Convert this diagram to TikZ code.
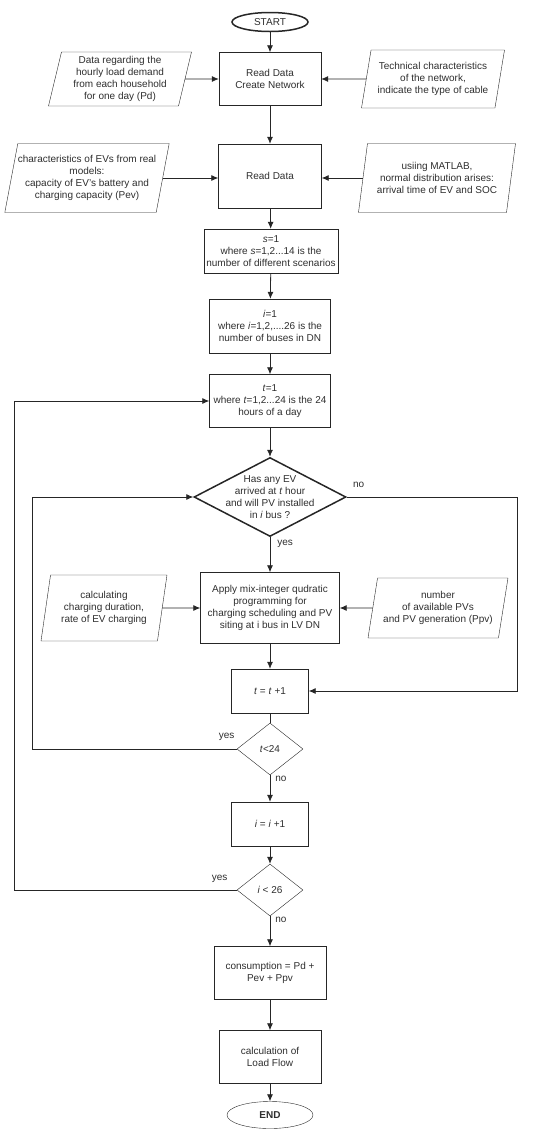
\documentclass[tikz,border=0pt]{standalone}
\usepackage{fontspec}
\setmainfont{Liberation Sans}
\usepackage{xcolor}
\usepackage{tikz}
\usetikzlibrary{arrows.meta, positioning, shapes.geometric}
\definecolor{inkgray}{HTML}{2E2E2E}
\definecolor{linegray}{HTML}{262626}
\tikzset{
  block/.style={draw=linegray, align=center, inner sep=1pt, text=inkgray},
  data/.style={trapezium, trapezium left angle=74, trapezium right angle=106, trapezium stretches body, draw=linegray, align=center, inner sep=0pt, text=inkgray},
  decision/.style={diamond, draw=linegray, align=center, inner sep=0pt, text=inkgray},
  terminal/.style={ellipse, draw=linegray, inner sep=0pt, text=inkgray},
  arrow/.style={-{Latex[length=7pt, width=6pt]}, linegray, line width=0.8pt},
  link/.style={linegray, line width=0.8pt},
  note/.style={text=inkgray, inner sep=2pt},
  every node/.style={font=\fontsize{10}{12}\selectfont}
}

\begin{document}
\begin{tikzpicture}[x=1pt,y=-1pt]
    \useasboundingbox (0,0) rectangle (550,1136);
    \node[terminal, line width=1.5pt, minimum width=76pt, minimum height=19pt] (start) at (270,22) {START};
    \node[block, minimum width=102pt, minimum height=53pt] (read1) at (270,79) {Read Data\\Create Network};
    \node[data, minimum width=143pt, minimum height=54pt] (load) at (120,79) {Data regarding the\\hourly load demand\\from each household\\for one day (Pd)};
    \node[data, minimum width=143pt, minimum height=58pt] (cable) at (433,79) {Technical characteristics\\of the network,\\indicate the type of cable};
    \node[block, minimum width=103pt, minimum height=64pt] (read2) at (270,176) {Read Data};
    \node[data, minimum width=162pt, minimum height=69pt] (evs) at (87,178) {characteristics of EVs from real\\models:\\capacity of EV's battery and\\charging capacity (Pev)};
    \node[data, minimum width=157pt, minimum height=69pt] (matlab) at (437,178) {usiing MATLAB,\\normal distribution arises:\\arrival time of EV and SOC};
    \node[block, minimum width=134pt, minimum height=44pt] (scen) at (271,251) {\textit{s}=1\\where \textit{s}=1,2...14 is the\\number of different scenarios};
    \node[block, minimum width=121pt, minimum height=54pt] (bus) at (270,326) {\textit{i}=1\\where \textit{i}=1,2,....26 is the\\number of buses in DN};
    \node[block, minimum width=121pt, minimum height=53pt] (hour) at (270,401) {\textit{t}=1\\where \textit{t}=1,2...24 is the 24\\hours of a day};
    \node[decision, line width=1.5pt, minimum width=152pt, minimum height=79pt,
      label={[text=inkgray, align=center]center:{Has any EV\\arrived at \textit{t} hour\\and will PV installed\\in \textit{i} bus ?}}] (arrive) at (270,497) {};
    \node[block, minimum width=139pt, minimum height=71pt] (milp) at (270,608) {Apply mix-integer qudratic\\programming for\\charging scheduling and PV\\siting at i bus in LV DN};
    \node[data, minimum width=126pt, minimum height=66pt] (charge) at (104,608) {calculating\\charging duration,\\rate of EV charging};
    \node[data, minimum width=140pt, minimum height=60pt] (pvgen) at (438,608) {number\\of available PVs\\and PV generation (Ppv)};
    \node[block, minimum width=77pt, minimum height=44pt] (tnext) at (270,691) {\textit{t} = \textit{t} +1};
    \node[decision, minimum width=66pt, minimum height=52pt] (tcheck) at (270,749) {\textit{t}<24};
    \node[block, minimum width=77pt, minimum height=44pt] (inext) at (270,824) {\textit{i} = \textit{i} +1};
    \node[decision, minimum width=66pt, minimum height=52pt] (icheck) at (270,890) {\textit{i} < 26};
    \node[block, minimum width=112pt, minimum height=53pt] (cons) at (270,973) {consumption = Pd +\\Pev + Ppv};
    \node[block, minimum width=102pt, minimum height=53pt] (flow) at (270,1057) {calculation of\\Load Flow};
    \node[terminal, minimum width=86pt, minimum height=27pt, font=\fontsize{10}{12}\selectfont\bfseries] (finish) at (270,1115) {END};

    \coordinate (rightrail) at (517,0);
    \coordinate (innerrail) at (32,0);
    \coordinate (outerrail) at (14,0);

    \draw[arrow] (start) -- (read1);
    \draw[arrow] (load) -- (read1);
    \draw[arrow] (cable) -- (read1);
    \draw[arrow] (read1) -- (read2);
    \draw[arrow] (evs.east) -- (evs.east -| read2.west);
    \draw[arrow] (matlab.west) -- (matlab.west -| read2.east);
    \draw[arrow] (read2) -- (scen);
    \draw[arrow] (scen) -- (bus);
    \draw[arrow] (bus) -- (hour);
    \draw[arrow] (hour) -- (arrive);
    \draw[arrow] (arrive.south) node[note, below right, xshift=5pt] {yes} -- (milp);
    \draw[arrow] (arrive.east) node[note, above right, xshift=4pt, yshift=7pt] {no} -- (arrive.east -| rightrail) |- (tnext);
    \draw[arrow] (charge) -- (milp);
    \draw[arrow] (pvgen) -- (milp);
    \draw[arrow] (milp) -- (tnext);
    \draw[link] (tnext) -- (tcheck);
    \draw[arrow] (tcheck.west) node[note, above left, yshift=6pt] {yes} -- (tcheck.west -| innerrail) |- (arrive.west);
    \draw[arrow] (tcheck.south) node[note, right, xshift=3pt, yshift=-4pt] {no} -- (inext);
    \draw[arrow] (inext) -- (icheck);
    \draw[arrow] (icheck.west) node[note, above left, xshift=-7pt, yshift=5pt] {yes} -- (icheck.west -| outerrail) |- (hour.west);
    \draw[arrow] (icheck.south) node[note, right, xshift=3pt, yshift=-4pt] {no} -- (cons);
    \draw[arrow] (cons) -- (flow);
    \draw[arrow] (flow) -- (finish);
\end{tikzpicture}
\end{document}
